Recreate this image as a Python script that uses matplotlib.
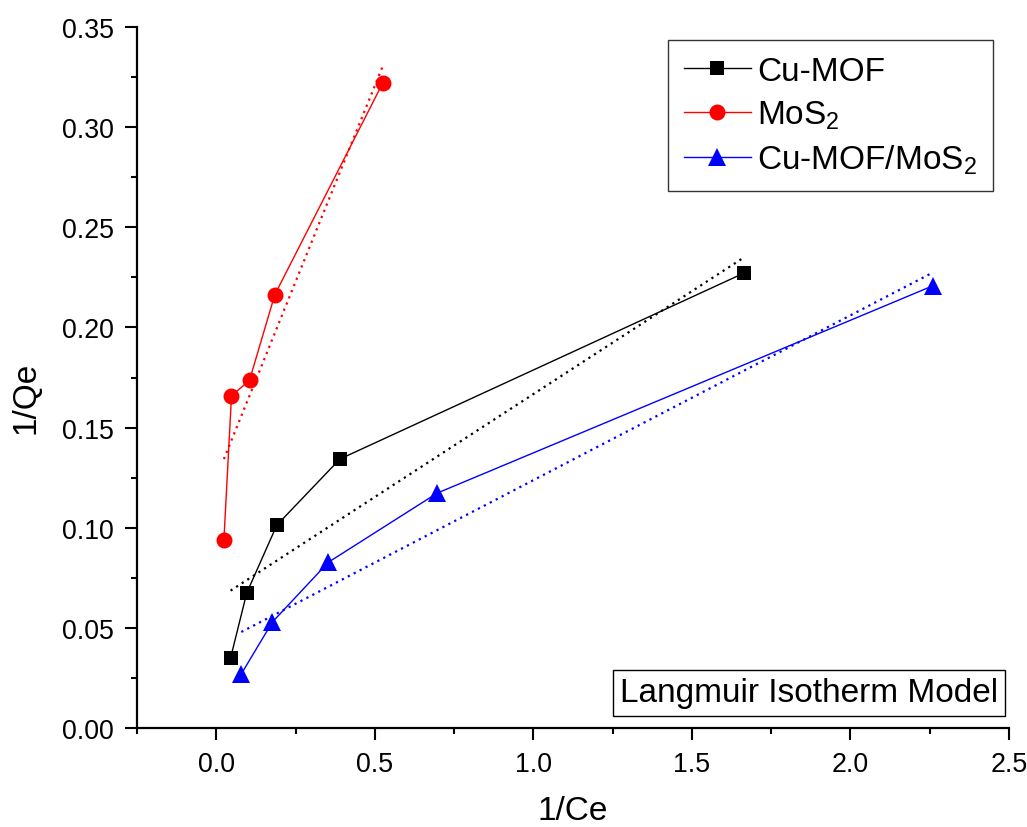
import numpy as np
import matplotlib
matplotlib.use("Agg")
import matplotlib.pyplot as plt
from matplotlib.ticker import MultipleLocator, FormatStrFormatter

plt.rcParams['font.family'] = ['Liberation Sans', 'DejaVu Sans']
plt.rcParams['mathtext.default'] = 'regular'

# Data
cumof_x = [0.045, 0.096, 0.191, 0.390, 1.665]
cumof_y = [0.0349, 0.0674, 0.1013, 0.1343, 0.2272]
mos2_x = [0.024, 0.048, 0.105, 0.1845, 0.525]
mos2_y = [0.0937, 0.1658, 0.1737, 0.2163, 0.3220]
comp_x = [0.079, 0.177, 0.353, 0.697, 2.260]
comp_y = [0.0270, 0.0529, 0.0827, 0.1173, 0.2208]

labels = ['Cu-MOF', 'MoS$_2$', 'Cu-MOF/MoS$_2$']
colors = ['black', 'red', 'blue']
markers = ['s', 'o', '^']
msizes = [10, 11.5, 13.5]

fig = plt.figure(figsize=(10.27, 8.28), dpi=100)
ax = fig.add_axes([137/1027, 1 - 729/828, (1009-137)/1027, (729-28)/828])

series = [(cumof_x, cumof_y), (mos2_x, mos2_y), (comp_x, comp_y)]
for (xs, ys), lab, c, m, ms in zip(series, labels, colors, markers, msizes):
    ax.plot(xs, ys, color=c, marker=m, markersize=ms, lw=1.0, label=lab,
            markeredgewidth=0, zorder=3)
    k, b = np.polyfit(xs, ys, 1)
    xf = np.array([min(xs), max(xs)])
    ax.plot(xf, k * xf + b, color=c, ls=(0, (1, 2)), lw=1.6, zorder=2)

ax.set_xlim(-0.25, 2.5)
ax.set_ylim(0.0, 0.35)
ax.xaxis.set_major_locator(MultipleLocator(0.5))
ax.xaxis.set_minor_locator(MultipleLocator(0.25))
ax.yaxis.set_major_locator(MultipleLocator(0.05))
ax.yaxis.set_minor_locator(MultipleLocator(0.025))
ax.xaxis.set_major_formatter(FormatStrFormatter('%.1f'))
ax.yaxis.set_major_formatter(FormatStrFormatter('%.2f'))

for s in ['top', 'right']:
    ax.spines[s].set_visible(False)
for s in ['left', 'bottom']:
    ax.spines[s].set_linewidth(1.6)

ax.tick_params(which='major', direction='out', length=8.6, width=1.5,
               labelsize=19.3, pad=8)
ax.tick_params(which='minor', direction='out', length=4.3, width=1.5)

ax.set_xlabel('1/Ce', fontsize=24)
ax.set_ylabel('1/Qe', fontsize=24)
ax.xaxis.set_label_coords(0.50, -0.096)
ax.yaxis.set_label_coords(-0.109, 0.472)

leg = ax.legend(loc='upper right', bbox_to_anchor=(993/1027, 1 - 41/828),
                bbox_transform=fig.transFigure, fontsize=24, frameon=True,
                fancybox=False, edgecolor='black', handlelength=2.0,
                handletextpad=0.2, borderpad=0.47, labelspacing=0.35,
                borderaxespad=0)
leg.get_frame().set_linewidth(1.0)

ax.text(0.9875, 0.05, 'Langmuir Isotherm Model', transform=ax.transAxes,
        fontsize=24, ha='right', va='center',
        bbox=dict(boxstyle='square,pad=0.22', fc='white', ec='black', lw=1.0))

fig.savefig('out.png', dpi=100)
